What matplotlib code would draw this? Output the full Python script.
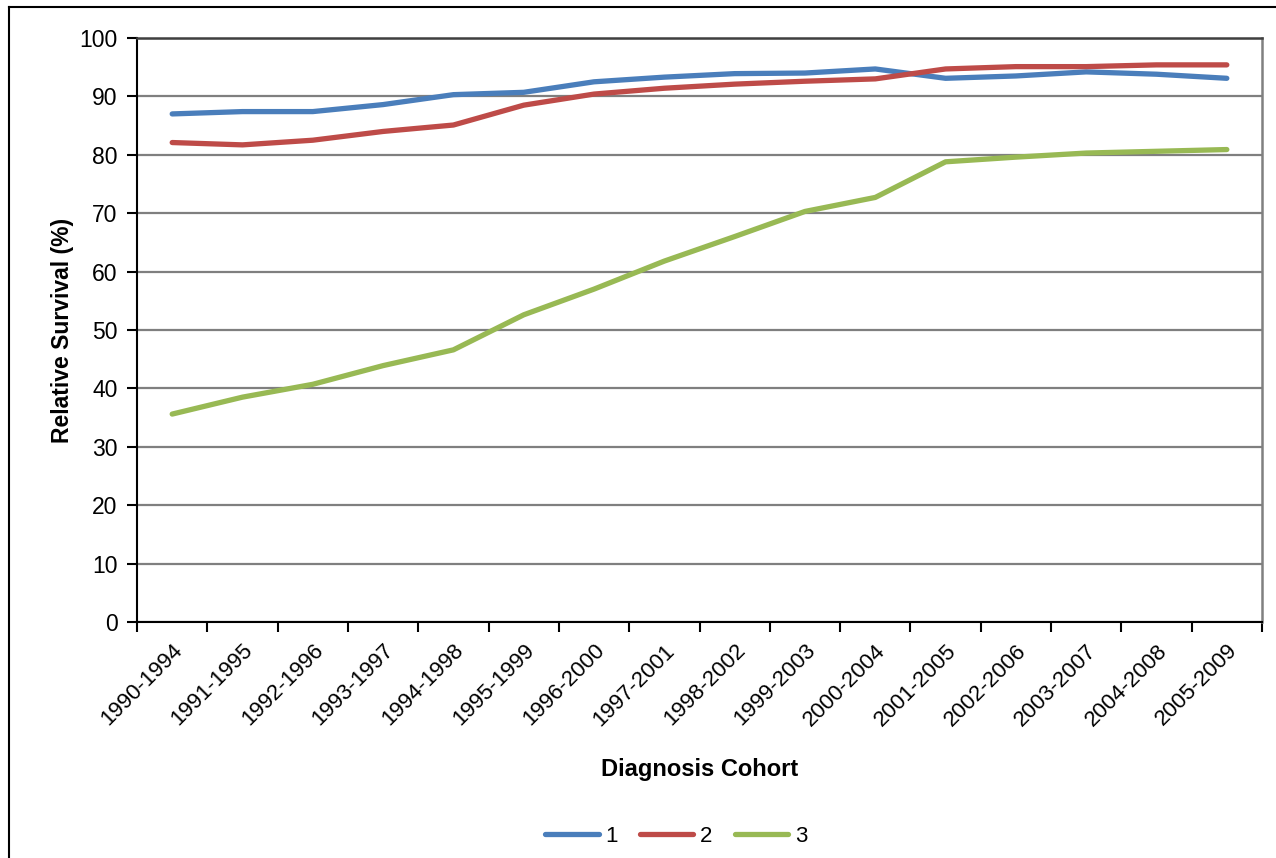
import matplotlib.pyplot as plt
from matplotlib.lines import Line2D

cohorts = ['1990-1994', '1991-1995', '1992-1996', '1993-1997', '1994-1998',
           '1995-1999', '1996-2000', '1997-2001', '1998-2002', '1999-2003',
           '2000-2004', '2001-2005', '2002-2006', '2003-2007', '2004-2008',
           '2005-2009']
series_1 = [87.0, 87.4, 87.4, 88.6, 90.3, 90.7, 92.5, 93.3, 93.9, 94.0,
            94.7, 93.1, 93.5, 94.2, 93.8, 93.1]
series_2 = [82.1, 81.7, 82.5, 84.0, 85.1, 88.5, 90.4, 91.4, 92.1, 92.6,
            93.0, 94.7, 95.1, 95.1, 95.4, 95.4]
series_3 = [35.6, 38.5, 40.7, 43.9, 46.6, 52.6, 57.0, 61.8, 66.0, 70.3,
            72.7, 78.8, 79.6, 80.3, 80.6, 80.9]
labels = ['1', '2', '3']
colors = ['#4A7EBB', '#BE4B48', '#98B954']

plt.rcParams['font.family'] = ['Liberation Sans', 'DejaVu Sans']

fig = plt.figure(figsize=(12.76, 8.58), dpi=100)
ax = fig.add_axes([0.1074, 0.2751, 0.8816, 0.6806])

x = list(range(len(cohorts)))
for vals, lab, col in zip([series_1, series_2, series_3], labels, colors):
    ax.plot(x, vals, color=col, lw=3.8, label=lab, solid_capstyle='round',
            zorder=3)

ax.set_xlim(-0.5, len(cohorts) - 0.5)
ax.set_ylim(0, 100)
ax.set_yticks(range(0, 101, 10))
ax.yaxis.grid(True, color='#7f7f7f', lw=1.6)
ax.set_axisbelow(True)

# category labels sit between the boundary tick marks
ax.set_xticks(x)
ax.set_xticklabels(cohorts, rotation=45, ha='right', rotation_mode='anchor',
                   fontsize=16)
ax.set_xticks([i - 0.5 for i in range(len(cohorts) + 1)], minor=True)
ax.tick_params(axis='x', which='major', length=0, pad=13)
ax.tick_params(axis='x', which='minor', length=7, width=1.5, direction='out')
ax.tick_params(axis='y', length=7, width=1.5, labelsize=16.5, pad=7)

ax.spines['left'].set_linewidth(1.5)
ax.spines['bottom'].set_linewidth(1.5)
ax.spines['top'].set_color('#404040')
ax.spines['top'].set_linewidth(1.8)
ax.spines['right'].set_color('#808080')
ax.spines['right'].set_linewidth(1.8)

ax.set_ylabel('Relative Survival (%)', fontsize=16.5, fontweight='bold',
              labelpad=4)
ax.set_xlabel('Diagnosis Cohort', fontsize=17, fontweight='bold',
              labelpad=20)

fig.legend(loc='center', bbox_to_anchor=(0.53, 0.025), ncol=3, frameon=False,
           fontsize=16, handlelength=2.4, handletextpad=0.3,
           columnspacing=1.0)

# outer chart frame
fig.add_artist(Line2D([9 / 1276, 9 / 1276], [0, 1 - 7 / 858], color='black',
                      lw=1.5, transform=fig.transFigure))
fig.add_artist(Line2D([9 / 1276, 1], [1 - 7 / 858, 1 - 7 / 858],
                      color='black', lw=1.5, transform=fig.transFigure))

fig.savefig('out.png', dpi=100)
